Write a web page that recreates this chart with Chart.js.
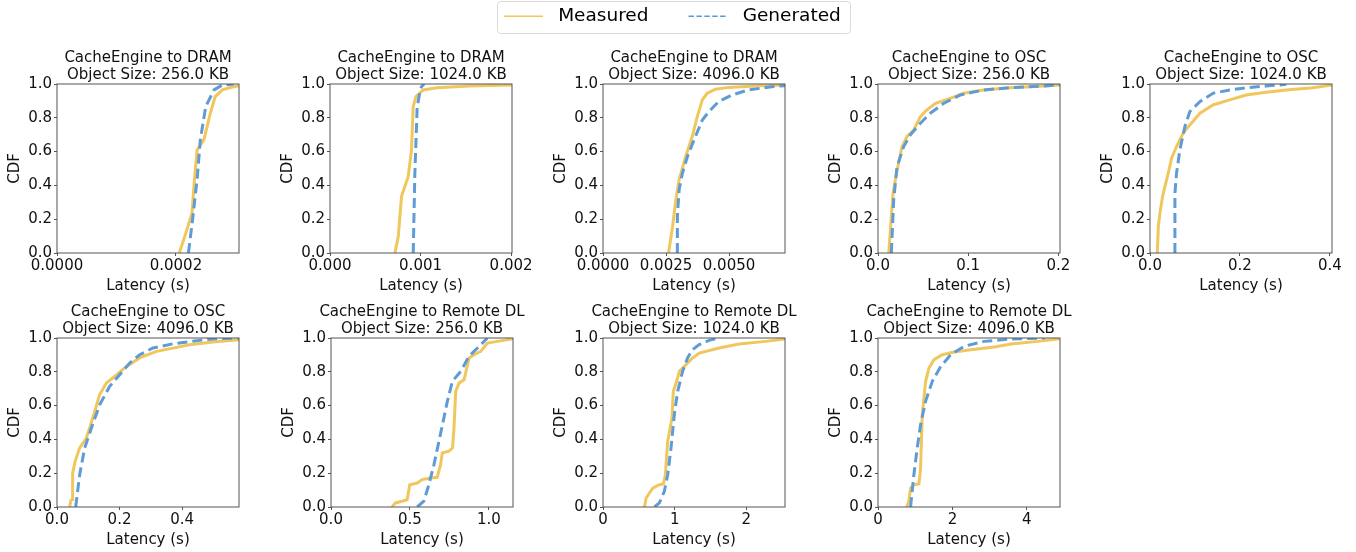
<!DOCTYPE html>
<html>
<head>
<meta charset="utf-8">
<script src="https://cdn.jsdelivr.net/npm/chart.js@4.4.1/dist/chart.umd.min.js"></script>
<style>
  html, body { margin: 0; padding: 0; background: #fff; overflow: hidden; }
  body { width: 1356px; height: 552px; position: relative; }
  canvas { position: absolute; }
  #legendBox {
    position: absolute; left: 497px; top: 1px; width: 354px; height: 33px;
    box-sizing: border-box; border: 1px solid #dcdcdc; border-radius: 4px;
  }
</style>
</head>
<body>
<div id="legendBox"></div>
<script>
// CDF curves, [latency (s), cdf]
const dram256Measured = [[0.0002056,0],[0.000215,0.1],[0.000227,0.236],[0.000231,0.43],[0.0002355,0.61],[0.000247,0.67],[0.000258,0.83],[0.000266,0.925],[0.000278,0.965],[0.000295,0.982],[0.000306,0.99]];
const dram256Generated = [[0.000221,0],[0.000228,0.2],[0.0002355,0.433],[0.000241,0.67],[0.00025,0.866],[0.000264,0.965],[0.000278,0.994],[0.000297,1]];
const dram1024Measured = [[0.000717,0],[0.000754,0.098],[0.00079,0.335],[0.000864,0.453],[0.0009,0.61],[0.000919,0.866],[0.000949,0.925],[0.00103,0.965],[0.00118,0.978],[0.00154,0.988],[0.00201,0.994]];
const dram1024Generated = [[0.000919,0],[0.000937,0.47],[0.000963,0.866],[0.00099,0.945],[0.00101,0.984],[0.00104,1]];
const dram4096Measured = [[0.0026,0],[0.00276,0.157],[0.00289,0.315],[0.00302,0.433],[0.00328,0.571],[0.00354,0.689],[0.00374,0.807],[0.00394,0.906],[0.00413,0.945],[0.00446,0.969],[0.00499,0.98],[0.00604,0.988],[0.00722,0.994]];
const dram4096Generated = [[0.00295,0],[0.00295,0.217],[0.00302,0.374],[0.00315,0.472],[0.00335,0.571],[0.00361,0.669],[0.00394,0.787],[0.0042,0.837],[0.00459,0.896],[0.00512,0.935],[0.00577,0.965],[0.00669,0.984],[0.00722,0.99]];
const osc256Measured = [[0.0119,0],[0.0167,0.354],[0.0204,0.47],[0.0267,0.63],[0.0322,0.69],[0.0396,0.728],[0.047,0.807],[0.054,0.846],[0.0637,0.886],[0.08,0.915],[0.095,0.945],[0.117,0.965],[0.147,0.978],[0.184,0.988],[0.2018,0.994]];
const osc256Generated = [[0.0148,0],[0.0174,0.315],[0.0211,0.51],[0.0285,0.63],[0.036,0.7],[0.047,0.768],[0.058,0.827],[0.073,0.886],[0.0915,0.935],[0.117,0.965],[0.147,0.978],[0.184,0.988],[0.2018,0.996]];
const osc1024Measured = [[0.0162,0],[0.0185,0.157],[0.0221,0.236],[0.028,0.335],[0.0332,0.394],[0.0406,0.472],[0.048,0.561],[0.059,0.63],[0.0738,0.709],[0.0886,0.758],[0.111,0.827],[0.14,0.876],[0.177,0.906],[0.214,0.935],[0.258,0.951],[0.303,0.965],[0.362,0.978],[0.4046,0.994]];
const osc1024Generated = [[0.0554,0],[0.0554,0.354],[0.059,0.472],[0.0664,0.61],[0.0775,0.748],[0.0886,0.837],[0.111,0.896],[0.14,0.945],[0.177,0.965],[0.214,0.978],[0.258,0.988],[0.303,0.998]];
const osc4096Measured = [[0.0405,0],[0.0445,0.04],[0.0485,0.045],[0.05,0.2],[0.058,0.27],[0.0725,0.35],[0.0939,0.408],[0.1045,0.467],[0.1205,0.566],[0.1365,0.665],[0.158,0.734],[0.1845,0.773],[0.222,0.832],[0.2645,0.882],[0.318,0.921],[0.371,0.94],[0.4245,0.96],[0.499,0.976],[0.582,0.99]];
const osc4096Generated = [[0.0597,0],[0.0725,0.191],[0.0885,0.349],[0.11,0.467],[0.1365,0.605],[0.1685,0.714],[0.2005,0.783],[0.2325,0.852],[0.2645,0.901],[0.307,0.941],[0.371,0.966],[0.4565,0.986],[0.51,0.996],[0.582,1]];
const remote256Measured = [[0.386,0],[0.408,0.024],[0.45,0.034],[0.482,0.043],[0.499,0.132],[0.546,0.142],[0.578,0.162],[0.631,0.172],[0.673,0.176],[0.694,0.25],[0.705,0.32],[0.747,0.33],[0.77,0.35],[0.779,0.467],[0.79,0.684],[0.811,0.734],[0.843,0.753],[0.875,0.882],[0.906,0.901],[0.949,0.921],[0.991,0.97],[1.055,0.98],[1.155,0.996]];
const remote256Generated = [[0.546,0],[0.588,0.034],[0.62,0.132],[0.652,0.25],[0.684,0.389],[0.715,0.527],[0.737,0.625],[0.769,0.744],[0.822,0.803],[0.875,0.892],[0.928,0.941],[0.991,1]];
const remote1024Measured = [[0.579,0],[0.602,0.053],[0.648,0.083],[0.694,0.112],[0.787,0.132],[0.843,0.136],[0.87,0.19],[0.903,0.389],[0.963,0.527],[0.981,0.684],[1.028,0.744],[1.065,0.803],[1.157,0.842],[1.25,0.882],[1.343,0.911],[1.62,0.941],[1.898,0.965],[2.27,0.98],[2.54,0.994]];
const remote1024Generated = [[0.718,0],[0.787,0.024],[0.856,0.093],[0.903,0.191],[0.949,0.349],[0.995,0.546],[1.042,0.684],[1.111,0.803],[1.18,0.882],[1.25,0.931],[1.343,0.961],[1.481,0.986],[1.62,1]];
const remote4096Measured = [[0.766,0],[0.829,0.034],[0.874,0.112],[0.964,0.132],[1.099,0.136],[1.144,0.231],[1.189,0.546],[1.279,0.744],[1.369,0.822],[1.505,0.872],[1.73,0.901],[2.045,0.917],[2.495,0.931],[3.126,0.947],[3.577,0.965],[4.297,0.98],[4.91,0.996]];
const remote4096Generated = [[0.874,0],[0.964,0.191],[1.054,0.349],[1.144,0.487],[1.279,0.625],[1.459,0.744],[1.685,0.832],[1.955,0.901],[2.315,0.951],[2.856,0.98],[3.577,0.994],[4.477,1]];

const targets = ['DRAM','DRAM','DRAM','OSC','OSC','OSC','Remote DL','Remote DL','Remote DL'];
const objectSizes = ['256.0','1024.0','4096.0','256.0','1024.0','4096.0','256.0','1024.0','4096.0'];
const measuredSeries = [dram256Measured, dram1024Measured, dram4096Measured, osc256Measured, osc1024Measured, osc4096Measured, remote256Measured, remote1024Measured, remote4096Measured];
const generatedSeries = [dram256Generated, dram1024Generated, dram4096Generated, osc256Generated, osc1024Generated, osc4096Generated, remote256Generated, remote1024Generated, remote4096Generated];
const xMax = [0.000306, 0.00201, 0.00722, 0.2018, 0.4046, 0.582, 1.153, 2.54, 4.89];
const xTickValues = [[0,0.0002],[0,0.001,0.002],[0,0.0025,0.005],[0,0.1,0.2],[0,0.2,0.4],[0,0.2,0.4],[0,0.5,1],[0,1,2],[0,2,4]];
const xTickLabels = [['0.0000','0.0002'],['0.000','0.001','0.002'],['0.0000','0.0025','0.0050'],['0.0','0.1','0.2'],['0.0','0.2','0.4'],['0.0','0.2','0.4'],['0.0','0.5','1.0'],['0','1','2'],['0','2','4']];

const measuredColor = '#f0c75c';
const generatedColor = '#5f9bd4';
const textColor = '#111';
const spineColor = '#555';

Chart.defaults.font.family = "'DejaVu Sans', sans-serif";
Chart.defaults.color = textColor;

// plot area placement on the page
const plotLeft = [57, 330, 603, 878, 1150, 57, 331, 603, 878];
const plotTop = [84, 84, 84, 84, 84, 338, 338, 338, 338];
const yAxisW = 57, xAxisH = 42, titleH = 37;
const plotW = 182, plotH = 169;

// box around the plot area
const frame = {
    id: 'frame',
    afterDatasetsDraw(chart) {
        const a = chart.chartArea;
        const ctx = chart.ctx;
        ctx.save();
        ctx.strokeStyle = spineColor;
        ctx.lineWidth = 1;
        ctx.strokeRect(a.left, a.top, a.right - a.left, a.bottom - a.top);
        ctx.restore();
    }
};

const toPoints = arr => arr.map(p => ({ x: p[0], y: p[1] }));

for (let i = 0; i < 9; i++) {
    const cv = document.createElement('canvas');
    cv.width = yAxisW + plotW + yAxisW;
    cv.height = titleH + plotH + xAxisH;
    cv.style.left = (plotLeft[i] - yAxisW) + 'px';
    cv.style.top = (plotTop[i] - titleH) + 'px';
    document.body.appendChild(cv);

    new Chart(cv, {
        type: 'line',
        data: {
            datasets: [{
                label: 'Generated',
                data: toPoints(generatedSeries[i]),
                borderColor: generatedColor,
                borderWidth: 3,
                borderDash: [10, 5],
                pointRadius: 0,
                tension: 0
            }, {
                label: 'Measured',
                data: toPoints(measuredSeries[i]),
                borderColor: measuredColor,
                borderWidth: 3,
                pointRadius: 0,
                tension: 0
            }]
        },
        options: {
            responsive: false,
            animation: false,
            devicePixelRatio: 1,
            layout: { padding: 0 },
            plugins: {
                legend: { display: false },
                tooltip: { enabled: false },
                title: {
                    display: true,
                    text: ['CacheEngine to ' + targets[i], 'Object Size: ' + objectSizes[i] + ' KB'],
                    color: textColor,
                    font: { size: 15, weight: 'normal', lineHeight: 17 / 15 },
                    padding: { top: 3, bottom: 0 }
                }
            },
            scales: {
                x: {
                    type: 'linear',
                    min: 0,
                    max: xMax[i],
                    afterBuildTicks: s => { s.ticks = xTickValues[i].map(v => ({ value: v })); },
                    afterFit: s => { s.height = xAxisH; },
                    ticks: {
                        autoSkip: false,
                        maxRotation: 0,
                        padding: 3,
                        color: textColor,
                        font: { size: 15, lineHeight: 1 },
                        callback: (v, idx) => xTickLabels[i][idx]
                    },
                    grid: { drawOnChartArea: false, drawTicks: true, tickLength: 3, color: spineColor },
                    border: { display: false },
                    title: {
                        display: true,
                        text: 'Latency (s)',
                        color: textColor,
                        font: { size: 15, lineHeight: 1.2 },
                        padding: 0
                    }
                },
                y: {
                    min: 0,
                    max: 1,
                    afterFit: s => { s.width = yAxisW; },
                    ticks: {
                        stepSize: 0.2,
                        padding: 2,
                        color: textColor,
                        font: { size: 15 },
                        callback: v => v.toFixed(1)
                    },
                    grid: { drawOnChartArea: false, drawTicks: true, tickLength: 3, color: spineColor },
                    border: { display: false },
                    title: {
                        display: true,
                        text: 'CDF',
                        color: textColor,
                        font: { size: 15, lineHeight: 1.2 },
                        padding: { top: 6, bottom: 0 }
                    }
                },
                // empty spacer on the right so the title centres over the plot
                spacer: {
                    type: 'linear',
                    position: 'right',
                    afterFit: s => { s.width = yAxisW; },
                    ticks: { display: false },
                    grid: { display: false },
                    border: { display: false }
                }
            }
        },
        plugins: [frame]
    });
}

// shared legend at the top
const lg = document.createElement('canvas');
lg.width = 420;
lg.height = 110;
lg.style.left = '464px';
lg.style.top = '-33px';
document.body.appendChild(lg);
new Chart(lg, {
    type: 'line',
    data: { datasets: [] },
    options: {
        responsive: false,
        animation: false,
        devicePixelRatio: 1,
        layout: { padding: 0 },
        scales: { x: { display: false }, y: { display: false } },
        plugins: {
            tooltip: { enabled: false },
            legend: {
                display: true,
                position: 'top',
                align: 'start',
                labels: {
                    usePointStyle: true,
                    pointStyleWidth: 39,
                    padding: 40,
                    color: textColor,
                    font: { size: 18.5 },
                    generateLabels: () => [
                        { text: ' Measured', strokeStyle: measuredColor, fillStyle: measuredColor, lineWidth: 1.6, lineDash: [], pointStyle: 'line', hidden: false, datasetIndex: 0 },
                        { text: ' Generated', strokeStyle: generatedColor, fillStyle: generatedColor, lineWidth: 1.6, lineDash: [5.5, 2.4], pointStyle: 'line', hidden: false, datasetIndex: 1 }
                    ]
                }
            }
        }
    }
});
</script>
</body>
</html>
